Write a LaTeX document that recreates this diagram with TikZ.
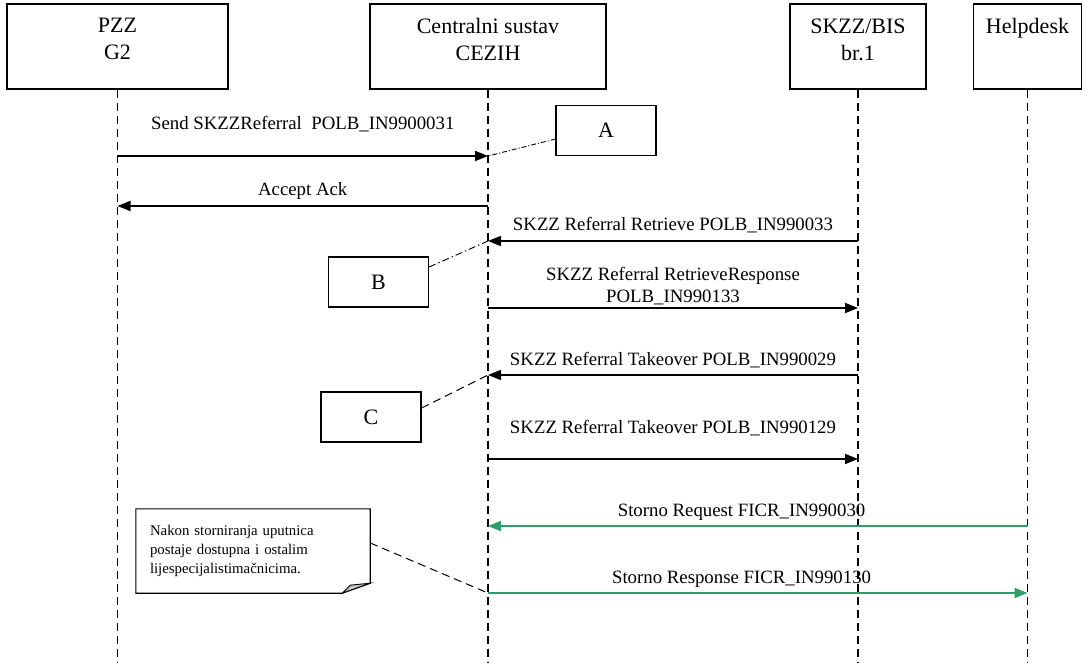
\documentclass[tikz,border=0pt]{standalone}
\usepackage{fontspec}
\setmainfont{Liberation Serif}
\usetikzlibrary{arrows.meta}

\definecolor{stornogreen}{RGB}{46,158,104}
\newcommand{\headfont}{\fontsize{22}{27}\selectfont}
\newcommand{\msgfont}{\fontsize{18.8}{22}\selectfont}
\newcommand{\notefont}{\fontsize{14.8}{19}\selectfont}

\tikzset{
  actor/.style={draw, line width=1.3pt, minimum height=85pt, inner sep=0pt},
  actortext/.style={font=\headfont, align=center, anchor=north, inner sep=0pt, yshift=-15pt},
  lifeline/.style={line width=1.1pt, dash pattern=on 8pt off 5pt},
  msg/.style={line width=1.8pt, -{Triangle[length=13pt,width=10pt]}},
  msgtext/.style={font=\msgfont, anchor=base, inner sep=0pt, yshift=10pt},
  refbox/.style={draw, line width=1.2pt, minimum width=100pt, minimum height=50pt, font=\headfont},
  reflink/.style={line width=0.9pt, dash pattern=on 5pt off 2pt on 1pt off 2pt},
}

\begin{document}
\begin{tikzpicture}[x=1pt,y=-1pt]
  \useasboundingbox (0,0) rectangle (1085,663);

  % Actors
  \node[actor, minimum width=221pt] (pzz) at (117.5,46.5) {};
  \node[actor, minimum width=236pt] (cezih) at (488,46.5) {};
  \node[actor, minimum width=136pt] (skzz) at (858,46.5) {};
  \node[actor, minimum width=108pt] (help) at (1027.5,46.5) {};
  \node[actortext] (pzz-txt) at (pzz.north) {PZZ\\G2};
  \node[actortext] (cezih-txt) at (cezih.north) {Centralni sustav\\CEZIH};
  \node[actortext] (skzz-txt) at (skzz.north) {SKZZ/BIS\\br.1};
  \node[actortext] (help-txt) at (help.north) {Helpdesk};

  % Lifelines
  \foreach \a in {pzz,cezih,skzz,help}
    \draw[lifeline] (\a.south) -- (\a.south |- 0,663);

  % Messages
  \draw[msg] (pzz |- 0,156) -- (cezih |- 0,156)
    node[msgtext, midway, yshift=16pt] {Send SKZZReferral\ \ POLB\_IN9900031};
  \draw[msg] (cezih |- 0,206) -- (pzz |- 0,206)
    node[msgtext, midway] {Accept Ack};
  \draw[msg] (skzz |- 0,241) -- (cezih |- 0,241)
    node[msgtext, midway] {SKZZ Referral Retrieve POLB\_IN990033};
  \draw[msg] (cezih |- 0,308) -- (skzz |- 0,308)
    node[msgtext, midway, align=center, anchor=south, yshift=-8pt] {SKZZ Referral RetrieveResponse\\POLB\_IN990133};
  \draw[msg] (skzz |- 0,375) -- (cezih |- 0,375)
    node[msgtext, midway] {SKZZ Referral Takeover POLB\_IN990029};
  \draw[msg] (cezih |- 0,459) -- (skzz |- 0,459)
    node[msgtext, midway, yshift=16pt] {SKZZ Referral Takeover POLB\_IN990129};

  % Storno
  \begin{scope}[stornogreen]
    \draw[msg] (help |- 0,526) -- (cezih |- 0,526)
      node[msgtext, pos=.53, black] {Storno Request FICR\_IN990030};
    \draw[msg] (cezih |- 0,593) -- (help |- 0,593)
      node[msgtext, pos=.47, black] {Storno Response FICR\_IN990130};
  \end{scope}

  % Markers
  \node[refbox] (mark-a) at (606,130.5) {A};
  \node[refbox] (mark-b) at (378.5,282) {B};
  \node[refbox] (mark-c) at (371,417) {C};
  \draw[reflink] ([yshift=-8.5pt]mark-a.west) -- (cezih |- 0,156);
  \draw[reflink, dash pattern=on 7pt off 3pt on 1.5pt off 3pt] ([yshift=15pt]mark-b.east) -- (cezih |- 0,241);
  \draw[lifeline, line width=1pt] ([yshift=9pt]mark-c.east) -- (cezih |- 0,375);

  % Note
  \node[font=\notefont, align=left, text width=206pt, inner xsep=14pt,
    minimum height=84pt] (note) at (253,551) {Nakon storniranja uputnica\\postaje dostupna i ostalim\\lijespecijalistimačnicima.};
  \draw[line width=1.1pt] (note.north west) -- (note.north east)
    -- ([yshift=10pt]note.south east) -- ([xshift=-28pt]note.south east)
    -- (note.south west) -- cycle;
  \filldraw[line width=0.9pt, fill=gray!45] ([xshift=-28pt]note.south east)
    -- ([yshift=10pt]note.south east) -- ([xshift=-20pt,yshift=8pt]note.south east) -- cycle;
  \draw[lifeline, line width=1pt] ([yshift=8pt]note.east) -- (cezih |- 0,593);
\end{tikzpicture}
\end{document}
